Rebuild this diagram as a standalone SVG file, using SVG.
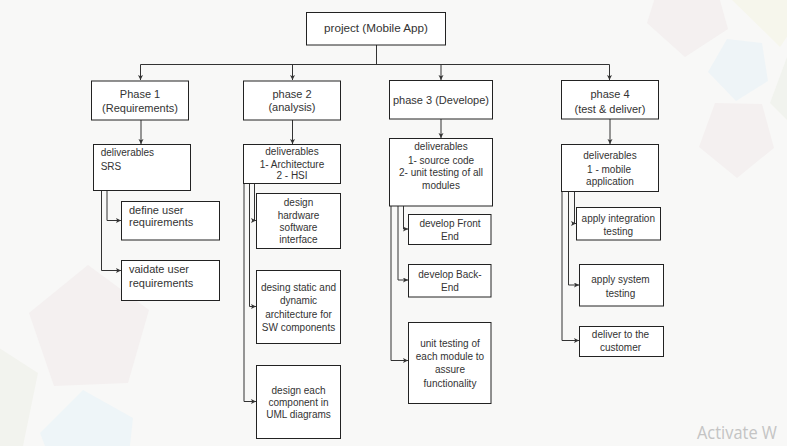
<svg xmlns="http://www.w3.org/2000/svg" width="787" height="446" viewBox="0 0 787 446">
<style>
.box{fill:#ffffff;stroke:#222222;stroke-width:1}
.t{font-family:"Liberation Sans",Arial,sans-serif;fill:#333333}
.s10{font-size:10px}
.s11{font-size:11px}
.c{text-anchor:middle}
.edge{fill:none;stroke:#333333;stroke-width:1}
.bg{stroke:none}
</style>
<defs>
<marker id="arr" markerUnits="userSpaceOnUse" markerWidth="6" markerHeight="6" refX="5" refY="2.5" orient="auto">
<path d="M0,0 L5,2.5 L0,5 L1.2,2.5 z" fill="#333333"/>
</marker>
</defs>
<rect x="0" y="0" width="787" height="446" fill="#f8f8f7"/>
<g id="background">
<polygon class="bg" points="647,23 658,-12 716,-14 728,29 685,57" fill="#f4f0f0"/>
<polygon class="bg" points="728,-4 778,-14 800,18 780,47" fill="#f6f6ec"/>
<polygon class="bg" points="727,39 762,43 768,81 736,101 708,72" fill="#eef4f7"/>
<polygon class="bg" points="770,103 787,57 787,120" fill="#f1f3ee"/>
<polygon class="bg" points="715,103 762,104 774,148 737,178 699,147" fill="#f4f0f0"/>
<polygon class="bg" points="88,265 149,310 128,383 54,386 29,313" fill="#f4f0f0"/>
<polygon class="bg" points="-10,342 38,373 23,446 -10,446" fill="#f2f3ee"/>
<polygon class="bg" points="83,390 133,418 130,446 45,446 40,433" fill="#eef5f8"/>
</g>
<g id="connectors">
<path class="edge" d="M376.5,45 V64.5 H140.5 V80" marker-end="url(#arr)"/>
<path class="edge" d="M376.5,45 V64.5 H292.5 V80" marker-end="url(#arr)"/>
<path class="edge" d="M376.5,45 V64.5 H441 V80" marker-end="url(#arr)"/>
<path class="edge" d="M376.5,45 V64.5 H609.5 V80" marker-end="url(#arr)"/>
<path class="edge" d="M141,120 V144" marker-end="url(#arr)"/>
<path class="edge" d="M292.5,120 V144" marker-end="url(#arr)"/>
<path class="edge" d="M441,119 V138" marker-end="url(#arr)"/>
<path class="edge" d="M610,119 V144" marker-end="url(#arr)"/>
<path class="edge" d="M107,190 V220.5 H121" marker-end="url(#arr)"/>
<path class="edge" d="M101.5,190 V270.5 H121" marker-end="url(#arr)"/>
<path class="edge" d="M254.5,183 V220.5 H256" marker-end="url(#arr)"/>
<path class="edge" d="M249.5,183 V306.5 H256" marker-end="url(#arr)"/>
<path class="edge" d="M244,183 V401.5 H256" marker-end="url(#arr)"/>
<path class="edge" d="M403.5,206 V229 H408" marker-end="url(#arr)"/>
<path class="edge" d="M398,206 V280 H408" marker-end="url(#arr)"/>
<path class="edge" d="M391,206 V360.5 H408" marker-end="url(#arr)"/>
<path class="edge" d="M574.5,191 V223.5 H576" marker-end="url(#arr)"/>
<path class="edge" d="M568.5,191 V285 H579" marker-end="url(#arr)"/>
<path class="edge" d="M562,191 V340.5 H579" marker-end="url(#arr)"/>
</g>
<g id="root">
<rect class="box" x="306.5" y="12.5" width="139" height="32.5"/>
<text class="t c" x="376" y="32" font-size="11.7">project (Mobile App)</text>
</g>
<g id="phase1">
<rect class="box" x="91.5" y="81" width="97" height="39"/>
<text class="t s11 c" x="140" y="98">Phase 1</text>
<text class="t s11 c" x="140" y="112">(Requirements)</text>
</g>
<g id="phase2">
<rect class="box" x="243.5" y="81" width="97" height="39"/>
<text class="t s11 c" x="292" y="98.3">phase 2</text>
<text class="t s11 c" x="292" y="111.3">(analysis)</text>
</g>
<g id="phase3">
<rect class="box" x="389.5" y="80.5" width="103" height="38.5"/>
<text class="t s11 c" x="441" y="104">phase 3 (Develope)</text>
</g>
<g id="phase4">
<rect class="box" x="561.5" y="80.5" width="97" height="38.5"/>
<text class="t s11 c" x="610" y="98.3">phase 4</text>
<text class="t s11 c" x="610" y="113">(test &amp; deliver)</text>
</g>
<g id="deliverables1">
<rect class="box" x="93.5" y="144.5" width="97" height="46"/>
<text class="t s10" x="100.7" y="155.5">deliverables</text>
<text class="t s10" x="100.7" y="169.5">SRS</text>
</g>
<g id="deliverables2">
<rect class="box" x="243.5" y="144.5" width="97" height="39"/>
<text class="t s10 c" x="292" y="155.3">deliverables</text>
<text class="t s10 c" x="292" y="168.3">1- Architecture</text>
<text class="t s10 c" x="292" y="178.8">2 - HSI</text>
</g>
<g id="deliverables3">
<rect class="box" x="389.5" y="138.5" width="103" height="67.5"/>
<text class="t s10 c" x="441" y="149.5">deliverables</text>
<text class="t s10 c" x="441" y="163.5">1- source code</text>
<text class="t s10 c" x="441" y="176.2">2- unit testing of all</text>
<text class="t s10 c" x="441" y="188.5">modules</text>
</g>
<g id="deliverables4">
<rect class="box" x="561.5" y="144.5" width="97" height="47"/>
<text class="t s10 c" x="610" y="158.5">deliverables</text>
<text class="t s10 c" x="609" y="172.5">1 - mobile</text>
<text class="t s10 c" x="610" y="185.2">application</text>
</g>
<g id="define-user-requirements">
<rect class="box" x="121.5" y="201.5" width="98" height="38.5"/>
<text class="t s11" x="129" y="214">define user</text>
<text class="t s11" x="129" y="226.3">requirements</text>
</g>
<g id="validate-user-requirements">
<rect class="box" x="121.5" y="260.5" width="98" height="40"/>
<text class="t s11" x="129" y="273.3">vaidate user</text>
<text class="t s11" x="129" y="287.3">requirements</text>
</g>
<g id="design-hsi">
<rect class="box" x="256.5" y="193.5" width="84" height="55"/>
<text class="t s10 c" x="298.5" y="205.8">design</text>
<text class="t s10 c" x="298.5" y="218.5">hardware</text>
<text class="t s10 c" x="298.5" y="230.5">software</text>
<text class="t s10 c" x="298.5" y="242.5">interface</text>
</g>
<g id="design-architecture">
<rect class="box" x="256.5" y="270.5" width="84" height="73"/>
<text class="t s10 c" x="298.5" y="290.8">desing static and</text>
<text class="t s10 c" x="298.5" y="304.2">dynamic</text>
<text class="t s10 c" x="298.5" y="317.5">architecture for</text>
<text class="t s10 c" x="298.5" y="330.8">SW components</text>
</g>
<g id="design-uml">
<rect class="box" x="256.5" y="365.5" width="84" height="73"/>
<text class="t s10 c" x="298.5" y="394.2">design each</text>
<text class="t s10 c" x="298.5" y="405.8">component in</text>
<text class="t s10 c" x="298.5" y="417.5">UML diagrams</text>
</g>
<g id="develop-front-end">
<rect class="box" x="408.5" y="214.5" width="82.5" height="30"/>
<text class="t s10 c" x="450" y="226.8">develop Front</text>
<text class="t s10 c" x="450" y="239.5">End</text>
</g>
<g id="develop-back-end">
<rect class="box" x="408.5" y="264.5" width="82.5" height="32.5"/>
<text class="t s10 c" x="450" y="277.5">develop Back-</text>
<text class="t s10 c" x="450" y="290.8">End</text>
</g>
<g id="unit-testing">
<rect class="box" x="408.5" y="322.5" width="82.5" height="81"/>
<text class="t s10 c" x="450" y="346.8">unit testing of</text>
<text class="t s10 c" x="450" y="360.2">each module to</text>
<text class="t s10 c" x="450" y="372.8">assure</text>
<text class="t s10 c" x="450" y="386.8">functionality</text>
</g>
<g id="integration-testing">
<rect class="box" x="576.5" y="207.5" width="84" height="32.5"/>
<text class="t s10 c" x="618.3" y="221.8">apply integration</text>
<text class="t s10 c" x="618.3" y="235.2">testing</text>
</g>
<g id="system-testing">
<rect class="box" x="579.5" y="264.5" width="84" height="41.5"/>
<text class="t s10 c" x="620.5" y="282.5">apply system</text>
<text class="t s10 c" x="620.5" y="296.5">testing</text>
</g>
<g id="deliver-customer">
<rect class="box" x="579.5" y="326.5" width="84" height="30"/>
<text class="t s10 c" x="620.5" y="338.2">deliver to the</text>
<text class="t s10 c" x="620.5" y="350.5">customer</text>
</g>
<text x="697" y="439" font-family="'Open Sans','Noto Sans',sans-serif" font-size="18" fill="#c4c4c4" textLength="80" lengthAdjust="spacingAndGlyphs">Activate W</text>
</svg>
